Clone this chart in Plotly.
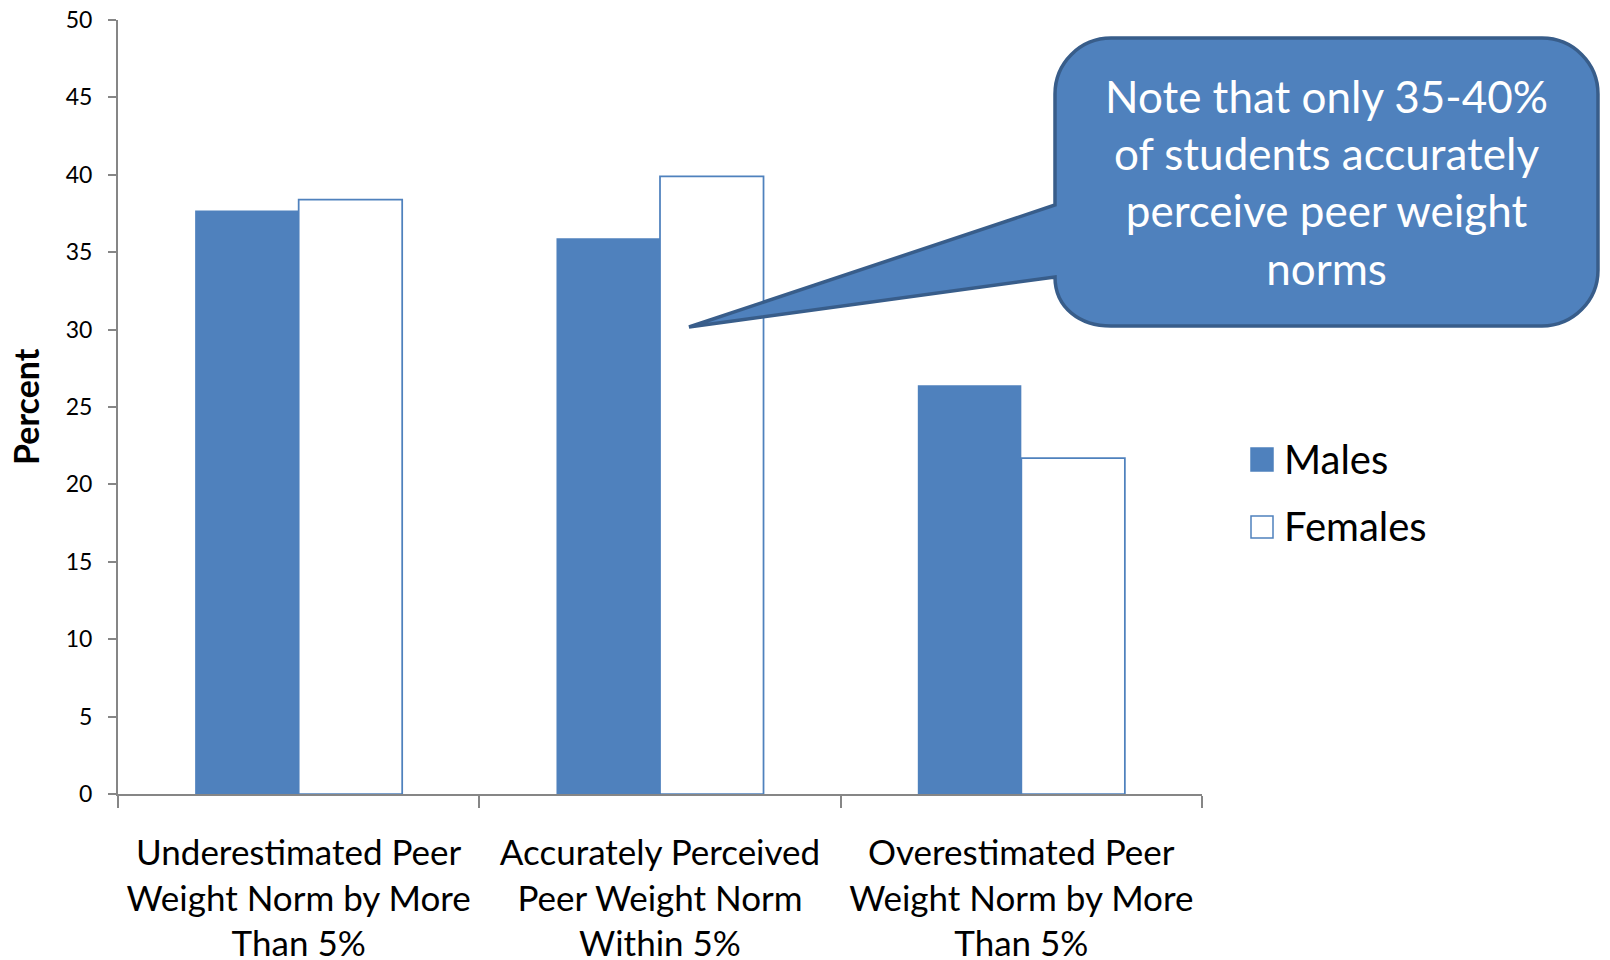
import plotly.graph_objects as go

# Survey results: perception of peer weight norms, by sex
categories = [
    "Underestimated Peer<br>Weight Norm by More<br>Than 5%",
    "Accurately Perceived<br>Peer Weight Norm<br>Within 5%",
    "Overestimated Peer<br>Weight Norm by More<br>Than 5%",
]
series_names = ["Males", "Females"]
males = [37.7, 35.9, 26.4]
females = [38.4, 39.9, 21.7]
y_ticks = [0, 5, 10, 15, 20, 25, 30, 35, 40, 45, 50]

callout_text = "Note that only 35-40%<br>of students accurately<br>perceive peer weight<br>norms"

BLUE = "#4F81BD"
DARK_BLUE = "#385D8A"
AXIS_GREY = "#868686"
FONT = "Lato, 'Noto Sans', sans-serif"

W, H = 1610, 960
ML, MR, MT, MB = 118, 408, 20, 166
PW, PH = W - ML - MR, H - MT - MB


def px(x):
    """Horizontal pixel -> paper coordinate."""
    return (x - ML) / PW


def py(y):
    """Vertical pixel -> paper coordinate."""
    return (H - MB - y) / PH


fig = go.Figure()
fig.add_trace(go.Bar(
    x=categories, y=males, name=series_names[0],
    marker=dict(color=BLUE, line=dict(color=BLUE, width=0)),
    showlegend=False,
))
fig.add_trace(go.Bar(
    x=categories, y=females, name=series_names[1],
    marker=dict(color="white", line=dict(color=BLUE, width=1.75)),
    showlegend=False,
))

# Speech-bubble callout with a pointer towards the middle group
L, R, T, B, r = 1055, 1598, 38, 326, 56
k = 0.5523 * r
tip = (689, 327)
base_hi, base_lo = 205, 277


def P(x, y):
    return f"{px(x):.5f},{py(y):.5f}"


path = (
    f"M {P(L + r, T)} L {P(R - r, T)} "
    f"C {P(R - r + k, T)} {P(R, T + r - k)} {P(R, T + r)} "
    f"L {P(R, B - r)} "
    f"C {P(R, B - r + k)} {P(R - r + k, B)} {P(R - r, B)} "
    f"L {P(L + r, B)} "
    f"C {P(L + r - k, B)} {P(L, B - (B - base_lo) + k)} {P(L, base_lo)} "
    f"L {P(*tip)} L {P(L, base_hi)} "
    f"L {P(L, T + r)} "
    f"C {P(L, T + r - k)} {P(L + r - k, T)} {P(L + r, T)} Z"
)
fig.add_shape(type="path", path=path, xref="paper", yref="paper",
              fillcolor=BLUE, line=dict(color=DARK_BLUE, width=3.5),
              layer="above")
fig.add_annotation(x=px((L + R) / 2), y=py(182), xref="paper", yref="paper",
                   text=callout_text, showarrow=False,
                   font=dict(family=FONT, size=44, color="white"),
                   align="center", xanchor="center", yanchor="middle")

# Legend drawn as swatches + labels
swatches = [
    dict(y0=448, y1=471, fill=BLUE, line=BLUE),
    dict(y0=516, y1=538, fill="white", line=BLUE),
]
for name, sw in zip(series_names, swatches):
    fig.add_shape(type="rect", xref="paper", yref="paper",
                  x0=px(1251), x1=px(1273), y0=py(sw["y1"]), y1=py(sw["y0"]),
                  fillcolor=sw["fill"], line=dict(color=sw["line"], width=1.5))
    fig.add_annotation(x=px(1282), y=py((sw["y0"] + sw["y1"]) / 2 - 1),
                       xref="paper", yref="paper", text=name, showarrow=False,
                       xanchor="left", yanchor="middle",
                       font=dict(family=FONT, size=40, color="black"))

# Y-axis title
fig.add_annotation(x=px(25), y=0.5, xref="paper", yref="paper",
                   text="<b>Percent</b>", textangle=-90, showarrow=False,
                   xanchor="center", yanchor="middle",
                   font=dict(family=FONT, size=34, color="black"))

fig.update_layout(
    width=W, height=H,
    margin=dict(l=ML, r=MR, t=MT, b=MB, pad=0),
    paper_bgcolor="white", plot_bgcolor="white",
    barmode="group", bargap=0.427, bargroupgap=0,
    font=dict(family=FONT, color="black"),
)
fig.update_xaxes(
    type="category", automargin=False,
    showline=True, linecolor=AXIS_GREY, linewidth=2,
    ticks="outside", tickson="boundaries", ticklen=12, tickwidth=2,
    tickcolor=AXIS_GREY, showgrid=False, zeroline=False,
    tickfont=dict(family=FONT, size=35, color="black"),
    ticklabelstandoff=27,
)
fig.update_yaxes(
    range=[0, 50], tickvals=y_ticks, automargin=False,
    showline=True, linecolor=AXIS_GREY,
    linewidth=2, ticks="outside", ticklen=8, tickwidth=2, tickcolor=AXIS_GREY,
    showgrid=False, zeroline=False,
    tickfont=dict(family=FONT, size=23, color="black"),
    ticklabelstandoff=11,
)

fig.write_html("out.html")
